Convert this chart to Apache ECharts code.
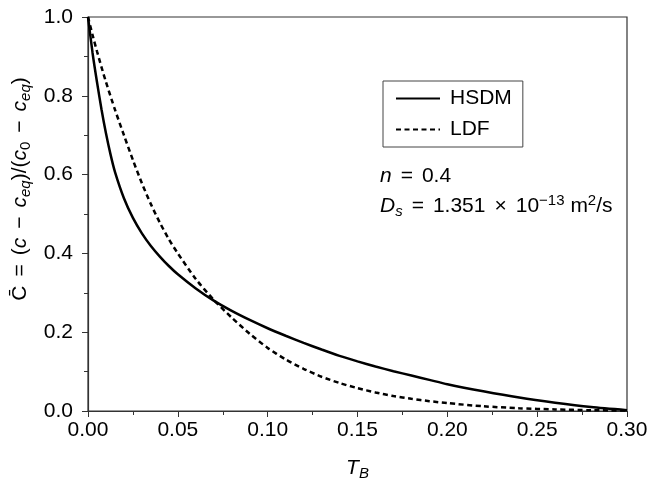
<!DOCTYPE html>
<html>
<head>
<meta charset="utf-8">
<script src="https://cdn.jsdelivr.net/npm/echarts@6/dist/echarts.min.js"></script>
<style>
  html, body { margin: 0; padding: 0; background: #fff; }
  #chart { width: 648px; height: 484px; }
</style>
</head>
<body>
<div id="chart"></div>
<script>
// T_B values
const hsdmT = [0, 0.0025, 0.005, 0.0075, 0.01, 0.0125, 0.015, 0.02, 0.025, 0.03, 0.035, 0.04, 0.045, 0.05, 0.06, 0.07, 0.08, 0.09, 0.10,
  0.11, 0.12, 0.13, 0.14, 0.15, 0.16, 0.17, 0.18, 0.19, 0.20, 0.22, 0.24, 0.26, 0.28, 0.30]
const hsdmC = [1.0, 0.91, 0.835, 0.766, 0.705, 0.652, 0.607, 0.54, 0.49, 0.451, 0.419, 0.392, 0.368, 0.347, 0.311, 0.280, 0.254, 0.231, 0.21,
  0.191, 0.173, 0.156, 0.14, 0.126, 0.113, 0.101, 0.09, 0.079, 0.068, 0.05, 0.034, 0.021, 0.01, 0.002]

const ldfT = [0, 0.0025, 0.005, 0.0075, 0.01, 0.015, 0.02, 0.025, 0.03, 0.035, 0.04, 0.045, 0.05, 0.06, 0.07, 0.08, 0.09, 0.10,
  0.11, 0.12, 0.13, 0.14, 0.15, 0.16, 0.17, 0.18, 0.19, 0.20, 0.22, 0.24, 0.26, 0.28, 0.30]
const ldfC = [1.0, 0.955, 0.913, 0.873, 0.835, 0.765, 0.70, 0.637, 0.578, 0.525, 0.478, 0.436, 0.40, 0.335, 0.282, 0.237, 0.196, 0.16,
  0.131, 0.107, 0.087, 0.071, 0.058, 0.047, 0.038, 0.031, 0.025, 0.02, 0.012, 0.007, 0.004, 0.002, 0.001]

const font = '"Liberation Sans", Arial, sans-serif'

const zip = (xs, ys) => xs.map((x, i) => [x, ys[i]])

// rich styles shared by the math-ish labels
const mathRich = {
  n: { fontSize: 21, lineHeight: 26, fontFamily: font, color: '#000' },
  i: { fontSize: 21, fontStyle: 'italic', lineHeight: 26, fontFamily: font, color: '#000' },
  op: { fontSize: 21, lineHeight: 26, padding: [0, 9, 0, 9], fontFamily: font, color: '#000' },
  sub: { fontSize: 15, fontStyle: 'italic', verticalAlign: 'bottom', lineHeight: 15, fontFamily: font, color: '#000' },
  subn: { fontSize: 15, verticalAlign: 'bottom', lineHeight: 15, fontFamily: font, color: '#000' },
  sup: { fontSize: 15, verticalAlign: 'top', lineHeight: 15, fontFamily: font, color: '#000' }
}

const chart = echarts.init(document.getElementById('chart'))

chart.setOption({
  backgroundColor: '#fff',
  animation: false,
  textStyle: { fontFamily: font },
  grid: {
    left: 88,
    right: 21,
    top: 17,
    bottom: 73,
    outerBoundsMode: 'none',
    containLabel: false,
    show: true,
    borderColor: '#333',
    borderWidth: 1.2
  },
  legend: {
    orient: 'vertical',
    left: 383,
    top: 81,
    padding: [7, 11, 7, 12],
    itemWidth: 44,
    itemHeight: 14,
    itemGap: 10,
    borderColor: '#444',
    borderWidth: 1,
    itemStyle: { color: 'rgba(0,0,0,0)', borderWidth: 0 },
    textStyle: { fontSize: 21, color: '#000', fontFamily: font, padding: [0, 0, 0, 5] },
    data: ['HSDM', 'LDF']
  },
  xAxis: {
    type: 'value',
    min: 0,
    max: 0.30,
    interval: 0.05,
    name: '{i|T}{sub|B}',
    nameLocation: 'middle',
    nameGap: 44,
    nameTextStyle: { fontSize: 21, lineHeight: 26, color: '#000', rich: mathRich },
    axisLine: { lineStyle: { color: '#333', width: 1.2 } },
    axisTick: { inside: false, length: 6, lineStyle: { color: '#333' } },
    minorTick: { show: true, splitNumber: 2, length: 4, lineStyle: { color: '#333' } },
    splitLine: { show: false },
    axisLabel: {
      fontSize: 21,
      color: '#000',
      margin: 9,
      formatter: v => v.toFixed(2)
    }
  },
  yAxis: {
    type: 'value',
    min: 0,
    max: 1.0,
    interval: 0.2,
    name: '{n|C̄}{op|=}{n|(}{i|c}{op|−}{i|c}{sub|eq}{n|)/(}{i|c}{subn|0}{op|−}{i|c}{sub|eq}{n|)}',
    nameLocation: 'middle',
    nameRotate: 90,
    nameGap: 52,
    nameTextStyle: { fontSize: 21, lineHeight: 26, color: '#000', padding: [0, 0, 0, 50], rich: mathRich },
    axisLine: { show: true, lineStyle: { color: '#333', width: 1.2 } },
    axisTick: { show: true, inside: false, length: 6, lineStyle: { color: '#333' } },
    minorTick: { show: true, splitNumber: 2, length: 4, lineStyle: { color: '#333' } },
    splitLine: { show: false },
    axisLabel: {
      fontSize: 21,
      color: '#000',
      margin: 15,
      formatter: v => v.toFixed(1)
    }
  },
  graphic: [
    {
      type: 'text',
      left: 380,
      top: 166,
      style: {
        text: '{i|n}{op|=}{n|0.4}',
        font: '21px ' + font,
        fill: '#000',
        rich: mathRich
      }
    },
    {
      type: 'text',
      left: 380,
      top: 193,
      style: {
        text: '{i|D}{sub|s}{op|=}{n|1.351}{op|×}{n|10}{sup|−13}{n| m}{sup|2}{n|/s}',
        font: '21px ' + font,
        fill: '#000',
        rich: mathRich
      }
    }
  ],
  series: [
    {
      name: 'HSDM',
      type: 'line',
      data: zip(hsdmT, hsdmC),
      smooth: 0.25,
      symbol: 'none',
      lineStyle: { color: '#000', width: 2.5, type: 'solid' },
      itemStyle: { color: '#000' }
    },
    {
      name: 'LDF',
      type: 'line',
      data: zip(ldfT, ldfC),
      smooth: 0.25,
      symbol: 'none',
      lineStyle: { color: '#000', width: 2.5, type: [5, 3.5] },
      itemStyle: { color: '#000' }
    }
  ]
})
</script>
</body>
</html>
